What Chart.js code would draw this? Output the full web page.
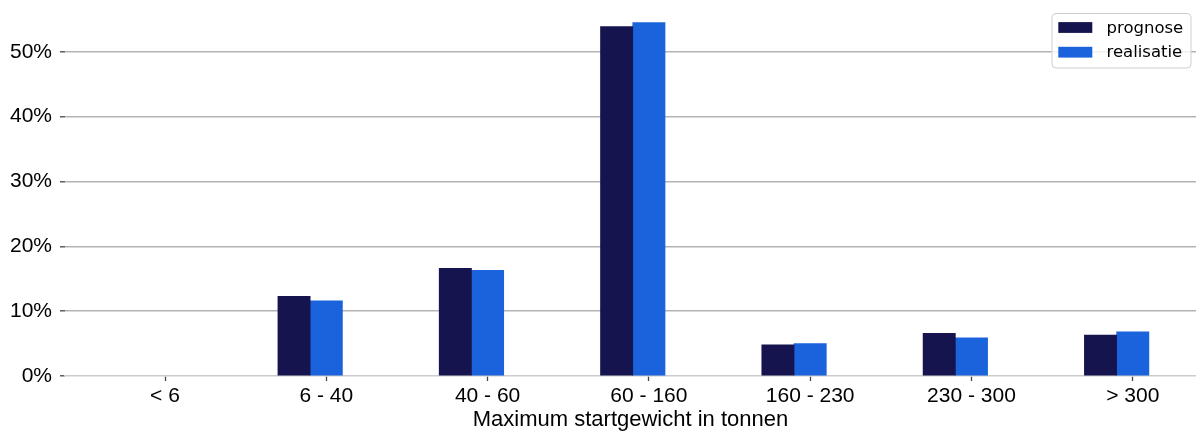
<!DOCTYPE html>
<html>
<head>
<meta charset="utf-8">
<script src="https://cdn.jsdelivr.net/npm/chart.js@4.4.1/dist/chart.umd.min.js"></script>
<style>
html,body{margin:0;padding:0;background:#fff;overflow:hidden}
#wrap{width:1196px;height:434px;position:relative}
</style>
</head>
<body>
<div id="wrap"><canvas id="c"></canvas></div>
<script>
// ---- data ----
const categories = ['< 6', '6 - 40', '40 - 60', '60 - 160', '160 - 230', '230 - 300', '> 300'];
const prognose = [0, 12.3, 16.6, 53.9, 4.8, 6.6, 6.3];
const realisatie = [0, 11.6, 16.3, 54.5, 5.0, 5.9, 6.8];
const yTickValues = [0, 10, 20, 30, 40, 50];
const seriesNames = ['prognose', 'realisatie'];
const xAxisTitle = 'Maximum startgewicht in tonnen';

// ---- styles ----
const colors = ['#15144f', '#1b63dc'];
const seriesShift = [-0.2, 0];
const tickFont = { family: "'Liberation Sans', Arial, sans-serif", size: 21, lineHeight: 1.2 };

const datasets = [prognose, realisatie].map((vals, k) => ({
  label: seriesNames[k],
  data: vals.map((v, i) => ({ x: i + seriesShift[k], y: v })),
  backgroundColor: c => (c.raw && c.raw.y === 0) ? 'rgba(0,0,0,0)' : colors[k],
  legendColor: colors[k],
  borderWidth: 0,
  grouped: false,
  categoryPercentage: 1,
  barPercentage: 1
}));

const boxLegend = {
  id: 'boxLegend',
  afterDraw(chart) {
    const ctx = chart.ctx;
    ctx.save();
    const bx = 1052, by = 13.5, bw = 139, bh = 54.5, r = 4;
    ctx.beginPath();
    ctx.moveTo(bx + r, by);
    ctx.arcTo(bx + bw, by, bx + bw, by + bh, r);
    ctx.arcTo(bx + bw, by + bh, bx, by + bh, r);
    ctx.arcTo(bx, by + bh, bx, by, r);
    ctx.arcTo(bx, by, bx + bw, by, r);
    ctx.closePath();
    ctx.fillStyle = 'rgba(255,255,255,0.8)';
    ctx.fill();
    ctx.strokeStyle = '#cfcfcf';
    ctx.lineWidth = 1;
    ctx.stroke();
    ctx.font = "16.5px 'DejaVu Sans', sans-serif";
    ctx.textBaseline = 'middle';
    ctx.textAlign = 'left';
    chart.data.datasets.forEach((ds, k) => {
      const cy = 27.5 + k * 24.7;
      ctx.fillStyle = ds.legendColor;
      ctx.fillRect(1058.3, cy - 5.4, 34, 10.8);
      ctx.fillStyle = '#000';
      ctx.fillText(ds.label, 1106.5, cy + 1);
    });
    ctx.restore();
  }
};

new Chart(document.getElementById('c'), {
  type: 'bar',
  data: { datasets },
  plugins: [boxLegend],
  options: {
    responsive: true,
    maintainAspectRatio: false,
    animation: false,
    layout: { padding: 0 },
    plugins: { legend: { display: false }, tooltip: { enabled: false } },
    scales: {
      x: {
        type: 'linear',
        offset: false,
        min: -0.62,
        max: 6.392,
        afterBuildTicks: s => { s.ticks = categories.map((_, i) => ({ value: i })); },
        afterFit: s => { s.height = 58; s.paddingLeft = 0; s.paddingRight = 0; },
        ticks: {
          callback: v => categories[v],
          font: tickFont,
          color: '#000',
          padding: 2.5,
          maxRotation: 0,
          autoSkip: false
        },
        grid: { offset: false, drawOnChartArea: false, drawTicks: true, tickLength: 5, tickColor: '#444', tickWidth: 1.3 },
        border: { display: true, color: '#cccccc', width: 1.5 },
        title: {
          display: true,
          text: xAxisTitle,
          color: '#000',
          font: { family: "'Liberation Sans', Arial, sans-serif", size: 22, lineHeight: 1.2 },
          padding: { top: 0, bottom: 1 }
        }
      },
      y: {
        min: 0,
        max: 58,
        z: 1,
        afterBuildTicks: s => { s.ticks = yTickValues.map(v => ({ value: v })); },
        afterFit: s => { s.width = 65; s.paddingTop = 0; s.paddingBottom = 0; },
        ticks: {
          callback: v => v + '%',
          font: tickFont,
          color: '#000',
          padding: 8
        },
        grid: {
          color: c => (c.tick && c.tick.value === 0) ? 'rgba(0,0,0,0)' : '#b3b3b3',
          lineWidth: 1.6,
          tickLength: 5,
          tickColor: '#444',
          tickWidth: 1.3
        },
        border: { display: false }
      }
    }
  }
});
</script>
</body>
</html>
